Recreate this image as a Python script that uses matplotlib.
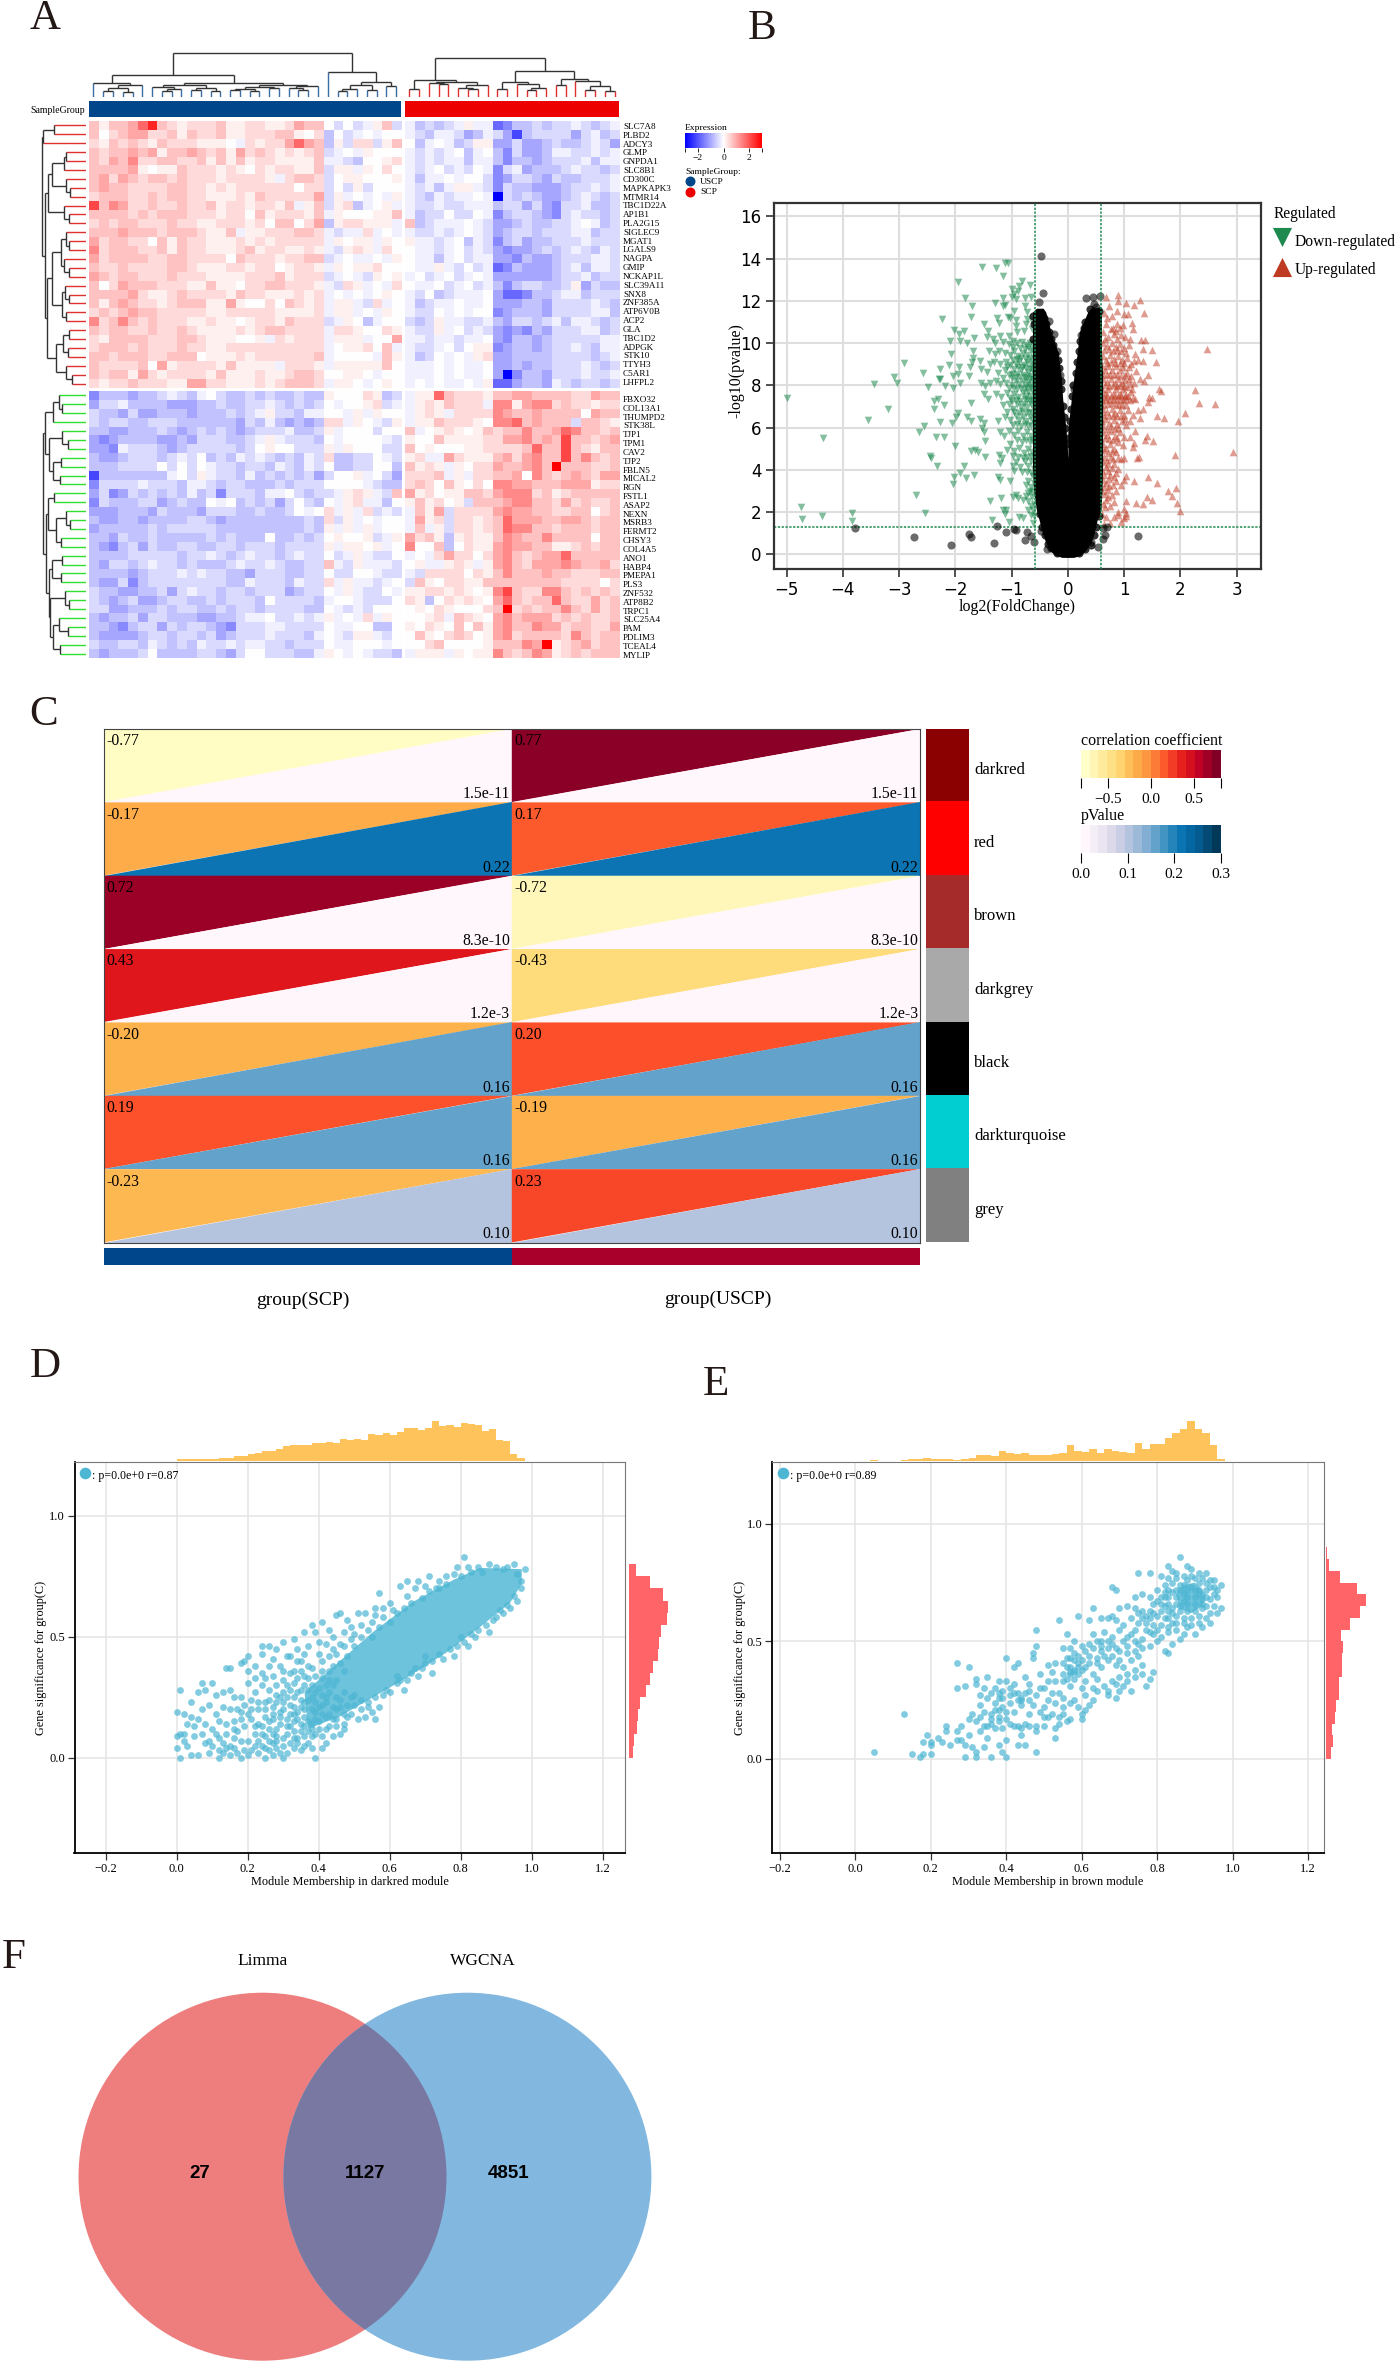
import numpy as np
import matplotlib
matplotlib.use("Agg")
import matplotlib.pyplot as plt
from matplotlib.colors import LinearSegmentedColormap, Normalize
from matplotlib.patches import Circle

# --- Panel A data ---
genes_top = ["SLC7A8", "PLBD2", "ADCY3", "GLMP", "GNPDA1", "SLC8B1", "CD300C", "MAPKAPK3", "MTMR14", "TBC1D22A",
             "AP1B1", "PLA2G15", "SIGLEC9", "MGAT1", "LGALS9", "NAGPA", "GMIP", "NCKAP1L", "SLC39A11", "SNX8",
             "ZNF385A", "ATP6V0B", "ACP2", "GLA", "TBC1D2", "ADPGK", "STK10", "TTYH3", "C5AR1", "LHFPL2"]
genes_bottom = ["FBXO32", "COL13A1", "THUMPD2", "STK38L", "TJP1", "TPM1", "CAV2", "TJP2", "FBLN5", "MICAL2",
                "RGN", "FSTL1", "ASAP2", "NEXN", "MSRB3", "FERMT2", "CHSY3", "COL4A5", "ANO1", "HABP4",
                "PMEPA1", "PLS3", "ZNF532", "ATP8B2", "TRPC1", "SLC25A4", "PAM", "PDLIM3", "TCEAL4", "MYLIP"]

# one string per gene, one char per sample: 1-9 = red levels, a-i = blue levels, 0 = white
heat_top = [
    "313346 832122 231122 112433 0b0ba13b acbcba1aa feccbcbbabcba",
    "302344 223132 231122 233102 c0ba0a00 abcaabdca bdgcbbbbdbacb",
    "213232 132221 110a21 224643 c1b22b13 0ca0acb11 ddbddcbccbabd",
    "323343 413343 231423 212123 ba0a1000 ababa0ca0 cebddcaabbaba",
    "324352 233223 131312 211113 aabc0012 ababaacaa ceccdcbbbacaa",
    "333341 011322 212102 122113 b11a1020 aba0bab0a ebadcccbabbcb",
    "342432 332322 212222 1a2332 b0110001 acaa0a00b edbbcdbccbbba",
    "343322 223322 121222 222022 b0b1b000 abaca11ab ebccdddcbbaba",
    "233322 323322 111213 222224 b1a0a0a1 abcabaa0a ibcbcddcbabcb",
    "735422 322322 312212 213a13 b12ca01a abbabbaaa cbbdbdebbaccb",
    "333323 233322 212203 122213 a1000113 acbb0bb0a ecbbcdebabbcb",
    "232332 223221 122212 033024 c122111a 3cbaaa0ab ddcbccbba0acb",
    "333433 323332 113a11 222332 abaa2a0a abbaba0ab dcbbcbbbaacbb",
    "423322 031322 111212 122222 a1011a10 1aaba0cab ecbdccbbbabbb",
    "523332 231322 111231 221121 ab121a20 0aaba0bab deddcbcbabcab",
    "423333 223322 220322 212233 ba0aa0a1 0aaca0baa ddecddcbbbaab",
    "322322 223321 112212 201221 a1011200 0aa1ab0ba fecdddcbacaab",
    "432332 223222 111122 231222 ba0ab101 a0ba0ba0a ddddddcbbacbb",
    "302433 322211 311022 332221 ab21a0a2 0aa0ba0ba cecbbccb1dbcc",
    "333342 112322 221322 111212 a0a0a010 ab0cbaaa0 dffeccbaacbbb",
    "313432 212333 114100 203212 a11ab2a0 acbaa0aa0 dddccdbbbbabc",
    "232343 322222 112222 211112 a11a0a10 abb0a0a00 edcccdbbbbaac",
    "523532 322211 211012 213222 ba10ca00 bcb1aabba cdbbcbacaabcb",
    "323322 322321 111212 332222 a2210021 abb1a0bab dedecdbbbaacb",
    "213333 222332 111001 a21222 a111a004 aabaabaa0 deccdcbbbbbaa",
    "233323 222322 112222 222222 a011203a abba0b011 edccdcbbabcaa",
    "332333 223330 111212 222223 a0000a31 acb0a0a12 ddccccbbbbcba",
    "322223 041222 213111 1a2221 a1111130 aaa0a0aa0 ddcdccbbbabcb",
    "323314 212222 131112 112332 00110a00 aaa0a0aa0 dieccdbbbabba",
    "212232 221144 221112 123332 a110a010 a0a0aa0a1 ffdccdabcbbcb",
]
heat_bottom = [
    "ecccdc cbabca 0bccbc bccbcc 100021cb a11632221 3344333322433",
    "dbbacc ccdddc cbccbb abcbcb 0a0012ba a1213222a 5514552322122",
    "bccdbd dcccdc ccbcba 1bbcaa 00a1a100 a121a2222 5433433330433",
    "bcbbcc bbbccc cccdbc acdcdc 22a10ab1 a11322210 55634333b3321",
    "ccddcc cbcdcb cbcdcb bbaccb 1a000b00 3a0121013 2335334653323",
    "dedccc cddcdb bbccba 1abbbc 0a0000ab 100311112 2445343733234",
    "ddeabb bcdcbb bbbcb0 100bbb 1a1000bb 301000112 2223633732133",
    "cddcbb bcbab0 cbcaba bcbcab 2ccbb0ab 12aa42111 3424533735323",
    "cccbbb b0b0b0 abbcbb cabcab 0ccbb00c 3121a1022 4334539333223",
    "gccccc cca0b1 abbcac bcbcbd b001a0bd 2223a1a22 3340532343244",
    "ebbbba bbbcaa bcbbcc cbcbbb 0000abcc 232031020 5544333444122",
    "dbedbc bcbcac bebbbc aa0bcb ba121ab3 412011332 4555231233333",
    "ebcccb bdcbcc 0a0cbc bdb0bc 0a12aac0 131201b33 3455332423223",
    "dddccc dbcccd bbbccb ccb0a0 2a1a2bab a314b2222 4544332233023",
    "cddccd ccccbb cdcccc ccccbc 2b1a0a00 a412b2212 3644433443233",
    "dccccc bcbbbb bccccc ccccbc 1a1a1a00 a3a1b2212 3655332333233",
    "ccdbcc bccccc bcbccc 0ccbcb 01001ba1 4231c1211 3543353333033",
    "cdecbd bccbbc cbbcbb bcbbbb 1a1101a0 5003c0211 4544331123233",
    "ccccbb bbbcbb abcbab bcbabb 0ba1abb0 a0a242202 4532344633333",
    "cdbbcb abbcbc ccbabb abccbb 3ab1aaab 01aa121a1 4532444543342",
    "ccccdc bbbaba bbccdb bbccbb 0bb00abb ab2222021 3533343322233",
    "cddbec bbbbbb bbccab bbcabb 2a1aaba0 b31022113 3333333222202",
    "bccddc cbdbab bcbbcb bbdcbb 0a1abb0a 112212101 5732255323232",
    "bcdcbd dcbbcc bcbbbc 0bbbbc a00abbb0 21c021210 4632336322423",
    "bbddcc cbcbbc cbcbbc bbbbcc 0abab000 010210002 3923233532423",
    "cdccbd bbcccd dccbaa 0bbaba 1a0a2a10 0012a3210 4534442323223",
    "ccdecb bdbcbb cdebbb aabbbb 0aa00cc0 102103031 4533544233224",
    "cddddc bbcbbc bdcbbb abbbca 0ab11ab0 031023201 4523333253233",
    "bccbbc abcbca bbabaa bbcbbb 0aa000a0 002300001 3335491234233",
    "cdcccb 0ccccb bcdb00 bbbcca 10a0abbc a111a1011 5323541232333",
]

# dendrograms as (merge height in px, left child, right child); 0 is a leaf
uscp_tree = (44,
             (22, (14, 0, (12, (9, (6, 0, 0), (5, 0, 0)), 0)),
              (14, (12, (10, 0, (8, (6, 0, 0), 0)), (9, (7, 0, 0), (6, 0, 0))),
               (12, (10, (8, (7, 0, 0), (6, 0, 0)), (9, 0, 0)), (11, (9, 0, (7, 0, 0)), 0)))),
             (25, 0, (15, (12, (8, (6, 0, 0), 0), (7, 0, 0)), (11, 0, 0))))
scp_tree = (39,
            (17, (8, 0, 0), (15, (14, 0, (13, 0, 0)), (12, (9, 0, (8, 0, 0)), 0))),
            (26, (15, (8, 0, 0), (13, 0, (9, (7, 0, 0), 0))), (18, (12, 0, 0), (16, 0, (11, (7, 0, 0), (6, 0, 0))))))
row_a = (22, (20, 0, 0), 0)
row_b = (20, 0, (16, 0, 0))
row_c = (22, 0, (17, 0, 0))
row_d = (25, (20, 0, (17, 0, 0)), (22, 0, (17, 0, 0)))
row_e = (24, (21, 0, (17, 0, 0)), (20, 0, 0))
row_f = (23, (17, 0, 0), (18, 0, 0))
row_g = (20, 0, (14, 0, 0))
top_tree = (44, (43, (32, 0, 0), 0), (41, (38, (34, row_a, row_b), row_c), (39, (34, row_d, row_e), (30, row_f, row_g))))
row_h = (33, (27, 0, (24, 0, 0)), 0)
row_i = (24, 0, (18, 0, 0))
row_j = (25, 0, 0)
row_k = (26, 0, 0)
row_l = (32, 0, 0)
row_m = (20, 0, (16, 0, 0))
row_n = (25, 0, 0)
row_o = (24, 0, 0)
row_p = (25, 0, 0)
row_q = (21, 0, (17, 0, 0))
row_r = (27, 0, (18, 0, 0))
row_s = (26, 0, 0)
bottom_tree = (43, (41, row_h, (37, row_i, (33, row_j, row_k))),
               (40, (38, row_l, (30, row_m, row_n)), (37, (34, row_o, row_p), (36, row_q, (33, row_r, row_s)))))

# --- Panel B data ---
green_pts = [
    (-5.0, 7.38), (-4.35, 5.48), (-4.74, 2.24), (-4.72, 1.69), (-4.37, 1.79), (-3.84, 1.94), (-3.83, 1.58),
    (-3.56, 6.37), (-3.2, 6.86), (-3.45, 8.06), (-3.1, 8.4), (-3.04, 8.09), (-2.92, 9.04), (-2.7, 2.8), (-2.54, 1.94),
    (-2.57, 8.6), (-2.48, 7.9), (-2.64, 5.77), (-2.56, 6.08), (-2.35, 5.56), (-2.21, 5.56), (-2.38, 7.24), (-2.31, 7.35),
    (-2.38, 6.9), (-2.2, 7.08), (-2.28, 6.24), (-2.06, 6.21), (-1.99, 6.52), (-1.96, 6.7), (-2.45, 4.66), (-2.43, 4.58),
    (-2.32, 4.19), (-2.0, 5.13), (-1.84, 4.19), (-1.92, 3.87), (-2.02, 3.68), (-2.04, 3.32), (-1.82, 3.59), (-1.67, 3.74),
    (-2.23, 11.14), (-1.96, 12.89), (-1.83, 12.13), (-1.71, 11.77), (-1.73, 11.23), (-2.03, 10.63), (-1.93, 10.43),
    (-1.84, 10.57), (-2.09, 10.11), (-1.91, 10.11), (-1.8, 10.0), (-1.67, 10.22), (-2.08, 9.48), (-1.68, 9.64),
    (-2.11, 8.96), (-1.93, 8.85), (-2.27, 8.77), (-2.3, 8.29), (-2.27, 8.28), (-2.18, 7.98), (-2.05, 7.87), (-2.05, 8.42),
    (-1.95, 8.53), (-1.92, 8.1), (-1.76, 8.45), (-1.74, 8.85), (-1.71, 9.08), (-1.69, 9.27), (-1.56, 9.16), (-1.55, 8.77),
    (-1.39, 9.0), (-1.44, 8.61), (-1.53, 13.59), (-1.28, 13.57), (-1.12, 13.79), (-1.07, 13.78), (-1.15, 13.18),
    (-0.81, 12.92), (-0.87, 12.69), (-0.67, 12.75), (-1.0, 12.56), (-0.88, 12.48), (-0.95, 12.32), (-1.16, 12.13),
    (-1.0, 12.16), (-0.92, 12.08), (-0.77, 12.13), (-0.65, 12.16), (-1.3, 11.9), (-1.16, 11.74), (-1.11, 11.8),
    (-0.77, 11.77), (-0.95, 11.53), (-0.73, 11.45), (-1.26, 11.17), (-1.07, 11.22), (-1.03, 11.18), (-0.92, 11.1),
    (-0.73, 11.14), (-1.5, 10.9), (-1.23, 10.95), (-1.42, 10.58), (-0.93, 10.82), (-0.74, 10.9), (-0.64, 11.06),
    (-1.44, 10.27), (-1.33, 10.19), (-1.2, 10.32), (-1.05, 10.35), (-0.91, 10.5), (-0.78, 10.58), (-0.64, 10.66),
    (-1.3, 10.0), (-1.15, 10.05), (-1.05, 9.95), (-0.98, 10.1), (-0.9, 10.0), (-0.82, 10.05), (-0.75, 9.9), (-0.68, 10.0),
    (-0.62, 9.95), (-1.4, 9.6), (-1.3, 9.5), (-1.22, 9.6), (-1.12, 9.55), (-1.02, 9.45), (-0.95, 9.6), (-0.88, 9.4),
    (-0.8, 9.55), (-0.72, 9.45), (-0.65, 9.6), (-0.6, 9.3), (-1.32, 9.1), (-1.2, 9.0), (-1.1, 9.1), (-1.03, 8.95),
    (-0.98, 9.2), (-0.92, 9.0), (-0.86, 9.15), (-0.78, 8.95), (-0.72, 9.1), (-0.66, 9.0), (-0.61, 8.9), (-1.24, 8.6),
    (-1.12, 8.7), (-1.05, 8.5), (-0.96, 8.75), (-0.9, 8.55), (-0.84, 8.7), (-0.78, 8.5), (-0.71, 8.65), (-0.65, 8.45),
    (-0.6, 8.6), (-1.55, 8.1), (-1.48, 7.95), (-1.38, 8.1), (-1.28, 8.2), (-1.2, 8.05), (-1.1, 8.1), (-1.0, 8.0),
    (-0.93, 8.2), (-0.86, 8.05), (-0.8, 8.2), (-0.75, 8.0), (-0.7, 8.15), (-0.64, 8.0), (-0.6, 8.1), (-1.5, 7.6),
    (-1.42, 7.35), (-1.28, 7.6), (-1.18, 7.45), (-1.08, 7.65), (-1.02, 7.4), (-0.95, 7.6), (-0.88, 7.45), (-0.8, 7.65),
    (-0.75, 7.5), (-0.7, 7.7), (-0.66, 7.5), (-0.6, 7.6), (-1.15, 7.05), (-1.05, 7.1), (-0.98, 6.9), (-0.9, 7.1),
    (-0.84, 6.95), (-0.78, 7.1), (-0.72, 6.95), (-0.66, 7.1), (-0.6, 6.9), (-1.72, 7.15), (-1.25, 6.3), (-1.12, 6.5),
    (-1.03, 6.35), (-0.93, 6.55), (-0.87, 6.35), (-0.79, 6.5), (-0.74, 6.3), (-0.68, 6.5), (-0.62, 6.35), (-1.8, 6.5),
    (-1.72, 6.3), (-1.57, 6.4), (-1.5, 6.2), (-1.52, 6.0), (-1.5, 5.8), (-1.2, 5.8), (-1.14, 5.6), (-1.05, 5.85),
    (-0.95, 5.65), (-0.88, 5.85), (-0.8, 5.6), (-0.73, 5.8), (-0.66, 5.6), (-0.61, 5.8), (-1.47, 5.35), (-1.72, 4.9),
    (-1.66, 4.95), (-1.6, 4.85), (-1.47, 4.6), (-1.23, 4.7), (-1.08, 4.95), (-1.03, 5.2), (-0.96, 4.9), (-0.86, 5.05),
    (-0.78, 4.8), (-0.7, 5.0), (-0.63, 4.85), (-1.2, 4.3), (-1.17, 4.55), (-0.98, 4.2), (-0.93, 4.35), (-0.85, 4.15),
    (-0.77, 4.4), (-0.7, 4.2), (-0.66, 4.4), (-0.61, 4.05), (-1.25, 3.65), (-1.2, 3.5), (-1.03, 3.45), (-0.75, 3.3),
    (-0.7, 3.45), (-0.65, 3.2), (-0.6, 3.35), (-1.19, 2.65), (-0.98, 2.7), (-0.93, 2.8), (-0.88, 2.65), (-0.8, 2.55),
    (-0.75, 2.75), (-0.7, 2.5), (-0.64, 2.7), (-0.6, 2.4), (-1.38, 2.5), (-1.15, 2.1), (-1.12, 1.9), (-1.1, 2.1),
    (-0.86, 1.75), (-0.79, 1.7), (-0.7, 2.1), (-0.65, 1.85), (-0.62, 1.5), (-1.35, 1.6), (-1.05, 1.55),
    # second pass over the dense band next to the threshold line
    (-0.97, 9.8), (-0.85, 9.75), (-0.77, 9.7), (-0.7, 9.8), (-0.63, 9.7), (-0.9, 9.25), (-0.83, 9.3), (-0.75, 9.25),
    (-0.68, 9.3), (-0.62, 9.15), (-1.08, 8.85), (-0.99, 8.55), (-0.88, 8.85), (-0.81, 8.85), (-0.74, 8.8), (-0.68, 8.75),
    (-0.63, 8.75), (-1.15, 8.35), (-1.0, 8.35), (-0.92, 8.4), (-0.85, 8.4), (-0.77, 8.35), (-0.72, 8.4), (-0.67, 8.3),
    (-0.62, 8.3), (-1.05, 7.85), (-0.96, 7.85), (-0.9, 7.8), (-0.84, 7.85), (-0.78, 7.8), (-0.72, 7.85), (-0.68, 7.9),
    (-0.63, 7.8), (-1.0, 7.25), (-0.92, 7.3), (-0.85, 7.25), (-0.77, 7.35), (-0.72, 7.3), (-0.68, 7.25), (-0.63, 7.3),
    (-1.09, 6.75), (-0.95, 6.75), (-0.87, 6.7), (-0.81, 6.8), (-0.75, 6.7), (-0.69, 6.75), (-0.63, 6.7), (-0.98, 6.1),
    (-0.91, 6.15), (-0.83, 6.05), (-0.76, 6.15), (-0.7, 6.05), (-0.65, 6.1), (-0.6, 6.2), (-0.9, 5.4), (-0.82, 5.3),
    (-0.75, 5.4), (-0.68, 5.3), (-0.63, 5.4), (-0.98, 4.65), (-0.88, 4.6), (-0.8, 4.55), (-0.72, 4.6), (-0.65, 4.65),
    (-0.72, 3.9), (-0.66, 3.85), (-0.62, 3.7), (-0.95, 3.95), (-0.82, 3.9), (-0.68, 3.0), (-0.63, 2.95), (-0.71, 2.9),
    (-0.66, 2.3), (-0.62, 2.1), (-0.61, 1.8),
]
red_pts = [
    (2.47, 9.72), (2.27, 7.79), (2.34, 7.16), (2.62, 7.09), (2.08, 6.71), (1.96, 6.32), (1.63, 7.82), (1.65, 7.74),
    (1.59, 6.56), (1.71, 6.45), (2.93, 4.82), (1.9, 4.71), (1.52, 5.37), (1.41, 5.61), (1.38, 5.42), (1.27, 4.61),
    (1.23, 4.55), (1.93, 3.13), (1.79, 2.99), (1.85, 2.76), (1.95, 2.42), (1.99, 2.07), (1.59, 3.36), (1.42, 3.68),
    (1.17, 3.48), (1.4, 2.69), (1.5, 2.56), (1.21, 2.42), (1.33, 2.37), (1.04, 2.53), (1.03, 3.71), (1.04, 1.79),
    (0.99, 2.13), (0.9, 12.27), (1.29, 12.02), (1.17, 11.8), (1.04, 11.88), (1.35, 11.42), (0.9, 12.0), (0.67, 12.18),
    (0.73, 11.74), (0.88, 11.53), (0.99, 11.37), (1.07, 11.37), (1.14, 10.95), (0.98, 10.85), (1.16, 10.66), (1.31, 10.16),
    (1.38, 10.16), (1.34, 9.72), (1.5, 9.67), (1.56, 9.08), (1.34, 9.16), (1.43, 8.5), (1.22, 8.69), (1.35, 8.21),
    (1.45, 7.43), (1.5, 7.39), (1.43, 7.19), (1.33, 6.87), (1.24, 6.84), (1.29, 6.43), (1.19, 5.85), (1.17, 5.29),
    (1.16, 5.06), (1.1, 5.53), (0.64, 11.4), (0.7, 11.2), (0.78, 11.3), (0.68, 10.9), (0.8, 10.7), (0.88, 10.9),
    (0.62, 10.5), (0.72, 10.3), (0.82, 10.45), (0.88, 10.2), (0.94, 10.4), (1.02, 10.3), (1.1, 10.2), (0.63, 10.0),
    (0.7, 9.85), (0.78, 10.0), (0.85, 9.8), (0.92, 9.95), (1.0, 9.75), (1.08, 9.9), (1.2, 9.5), (1.25, 9.2), (0.62, 9.4),
    (0.68, 9.2), (0.75, 9.45), (0.82, 9.25), (0.9, 9.4), (0.96, 9.2), (1.05, 9.3), (1.12, 9.0), (1.18, 9.15), (0.6, 8.9),
    (0.66, 8.7), (0.72, 8.9), (0.79, 8.7), (0.85, 8.9), (0.92, 8.7), (0.98, 8.85), (1.06, 8.6), (1.12, 8.45), (1.28, 8.3),
    (0.63, 8.3), (0.7, 8.15), (0.77, 8.3), (0.83, 8.1), (0.9, 8.3), (0.96, 8.1), (1.02, 8.25), (1.1, 8.05), (1.18, 8.1),
    (0.6, 7.8), (0.66, 7.65), (0.72, 7.8), (0.8, 7.6), (0.86, 7.8), (0.92, 7.6), (0.98, 7.8), (1.04, 7.55), (1.12, 7.7),
    (1.2, 7.35), (0.6, 7.3), (0.68, 7.35), (0.74, 7.3), (0.8, 7.35), (0.86, 7.3), (0.92, 7.35), (0.98, 7.3), (1.04, 7.35),
    (1.1, 7.3), (0.62, 6.9), (0.7, 6.75), (0.78, 6.9), (0.84, 6.7), (0.92, 6.85), (1.0, 6.6), (1.07, 6.85), (1.15, 6.6),
    (0.6, 6.3), (0.66, 6.4), (0.74, 6.2), (0.82, 6.35), (0.88, 6.15), (0.96, 6.3), (1.03, 6.1), (1.1, 6.3), (0.63, 5.8),
    (0.7, 5.65), (0.77, 5.85), (0.84, 5.6), (0.92, 5.8), (1.0, 5.55), (0.62, 5.2), (0.68, 5.05), (0.75, 5.2), (0.82, 5.0),
    (0.9, 5.3), (0.98, 5.15), (0.64, 4.6), (0.7, 4.45), (0.76, 4.6), (0.8, 4.5), (0.9, 4.55), (0.95, 4.5), (1.0, 4.55),
    (0.61, 4.0), (0.67, 4.15), (0.72, 3.95), (0.78, 4.1), (0.85, 3.85), (0.9, 4.05), (0.62, 3.5), (0.68, 3.35), (0.74, 3.55),
    (0.8, 3.3), (0.86, 3.45), (0.95, 3.3), (1.0, 3.5), (0.6, 3.0), (0.66, 2.85), (0.72, 3.05), (0.78, 2.8), (0.85, 3.0),
    (0.62, 2.4), (0.68, 2.55), (0.75, 2.3), (0.82, 2.45), (0.9, 2.0), (0.61, 1.9), (0.67, 1.75), (0.75, 1.5), (0.82, 1.75),
    (0.9, 1.85), (0.65, 1.45), (0.95, 1.55), (1.0, 1.7), (1.03, 1.95),
    # second pass over the dense patch around fold change 0.9, -log10(p) 7-9
    (0.66, 10.2), (0.76, 10.65), (0.85, 10.55), (0.92, 10.7), (0.65, 9.65), (0.74, 9.7), (0.81, 9.6), (0.88, 9.65),
    (0.95, 9.6), (1.03, 9.55), (0.7, 9.05), (0.77, 9.1), (0.84, 9.05), (0.92, 9.05), (1.0, 9.05), (1.08, 8.85), (0.63, 8.55),
    (0.69, 8.5), (0.75, 8.55), (0.82, 8.5), (0.88, 8.55), (0.95, 8.45), (1.02, 8.5), (1.09, 8.3), (0.66, 8.0), (0.73, 7.95),
    (0.8, 8.0), (0.87, 7.95), (0.93, 8.0), (1.0, 7.95), (1.06, 7.9), (1.14, 7.8), (0.64, 7.45), (0.7, 7.55), (0.77, 7.5),
    (0.83, 7.55), (0.89, 7.5), (0.95, 7.55), (1.01, 7.5), (1.07, 7.5), (1.15, 7.4), (0.65, 7.05), (0.72, 7.1), (0.79, 7.15),
    (0.85, 7.05), (0.91, 7.1), (0.97, 7.05), (1.03, 7.05), (0.64, 6.6), (0.73, 6.55), (0.8, 6.6), (0.87, 6.55), (0.95, 6.55),
    (1.02, 6.4), (0.62, 6.05), (0.69, 5.95), (0.76, 6.05), (0.83, 5.95), (0.9, 6.0), (0.66, 5.5), (0.73, 5.45), (0.8, 5.4),
    (0.88, 5.5), (0.64, 4.95), (0.72, 4.8), (0.78, 4.9), (0.86, 4.85), (0.63, 4.35), (0.72, 4.25), (0.82, 4.25), (0.65, 3.75),
    (0.75, 3.75), (0.82, 3.65), (0.65, 3.2), (0.73, 3.25), (0.66, 2.25), (0.72, 2.7),
]
grey_pts = [
    (-0.47, 14.14), (-0.44, 12.39), (-0.52, 11.96), (-0.33, 11.03), (-0.25, 10.43), (-3.78, 1.26), (-2.73, 0.82),
    (-2.08, 0.43), (-1.76, 0.95), (-1.73, 0.82), (-1.31, 0.54), (-1.26, 1.33), (-1.1, 1.06), (-0.95, 1.18), (-0.93, 1.15),
    (-0.73, 1.03), (-0.76, 0.68), (-0.65, 0.84), (-0.61, 0.58), (-0.48, 1.1), (-0.37, 0.24), (1.25, 0.87), (0.32, 12.15),
    (0.45, 12.2), (0.57, 12.24), (0.46, 11.85), (0.5, 11.69), (0.33, 10.79), (0.24, 10.38), (0.7, 1.3), (0.63, 1.26),
    (0.66, 0.9), (0.62, 0.71), (0.53, 0.32), (0.11, 7.82), (-0.2, 9.6), (-0.14, 8.5), (-0.3, 0.9), (0.42, 0.6),
]
# blobby rim of the black cloud
black_rim = [
    (-0.62, 11.3), (-0.6, 10.9), (-0.62, 10.2), (-0.42, 11.2), (-0.38, 10.9), (-0.34, 10.5), (-0.3, 10.2), (-0.27, 9.9),
    (-0.22, 9.5), (-0.18, 9.2), (-0.15, 8.8), (-0.12, 8.2), (-0.13, 7.8), (-0.09, 7.0), (-0.07, 6.5), (-0.05, 6.0),
    (-0.03, 5.2), (0.02, 5.5), (0.04, 6.3), (0.06, 6.9), (0.08, 7.5), (0.1, 8.0), (0.14, 8.6), (0.17, 9.1), (0.2, 9.6),
    (0.22, 10.1), (0.28, 10.7), (0.3, 11.0), (0.4, 11.6), (0.47, 11.5), (0.56, 11.5), (-0.3, 0.3), (0.3, 0.25), (-0.36, 0.5),
    (0.42, 0.45), (-0.4, 0.9), (0.46, 0.9), (-0.46, 1.3), (0.5, 1.3), (-0.5, 1.9), (0.55, 1.8), (-0.2, 0.05), (0.2, 0.05),
]
# outline of the saturated black cloud, per -log10(p) level
black_y = [-0.1, 0.0, 0.2, 0.6, 1.0, 1.6, 2.1, 3.0, 4.2, 4.7, 5.9, 7.35, 8.5, 9.6, 10.5, 11.45, 11.6]
black_l_out = [-0.1, -0.22, -0.3, -0.38, -0.43, -0.49, -0.54, -0.59, -0.61, -0.61, -0.61, -0.61, -0.61, -0.61, -0.61, -0.61, -0.55]
black_l_in = [0, 0, 0, 0, 0, 0, 0, 0, 0, -0.02, -0.05, -0.11, -0.14, -0.2, -0.32, -0.41, -0.45]
black_r_in = [0, 0, 0, 0, 0, 0, 0, 0, 0, 0.02, 0.02, 0.08, 0.13, 0.19, 0.22, 0.37, 0.42]
black_r_out = [0.1, 0.22, 0.3, 0.4, 0.45, 0.5, 0.57, 0.59, 0.6, 0.6, 0.6, 0.6, 0.6, 0.58, 0.58, 0.58, 0.58]

# --- Panel C data ---
modules = ["darkred", "red", "brown", "darkgrey", "black", "darkturquoise", "grey"]
module_colors = ["#8B0000", "#FF0000", "#A52A2A", "#A9A9A9", "#000000", "#00CED1", "#808080"]
cor_scp = [-0.77, -0.17, 0.72, 0.43, -0.20, 0.19, -0.23]
cor_uscp = [0.77, 0.17, -0.72, -0.43, 0.20, -0.19, 0.23]
p_values = [1.5e-11, 0.22, 8.3e-10, 1.2e-3, 0.16, 0.16, 0.10]
p_labels = ["1.5e-11", "0.22", "8.3e-10", "1.2e-3", "0.16", "0.16", "0.10"]

# --- Panel D data ---
d_core_x = [0.36, 0.46, 0.553, 0.666, 0.779, 0.854, 0.972, 0.972, 0.939, 0.854, 0.76, 0.647, 0.553, 0.459, 0.37]
d_core_y = [0.27, 0.4, 0.52, 0.645, 0.735, 0.785, 0.78, 0.72, 0.64, 0.54, 0.435, 0.33, 0.25, 0.17, 0.12]
d_pts = [
    (0.0, 0.19), (0.04, 0.23), (0.01, 0.28), (0.07, 0.31), (0.1, 0.31), (0.06, 0.27), (0.08, 0.28), (0.13, 0.27), (0.15, 0.28),
    (0.11, 0.26), (0.16, 0.25), (0.18, 0.25), (0.14, 0.37), (0.15, 0.37), (0.18, 0.39), (0.2, 0.42), (0.19, 0.4), (0.24, 0.46),
    (0.26, 0.46), (0.24, 0.43), (0.28, 0.45), (0.3, 0.48), (0.33, 0.49), (0.36, 0.52), (0.38, 0.55), (0.41, 0.56), (0.39, 0.52),
    (0.43, 0.53), (0.45, 0.59), (0.46, 0.6), (0.48, 0.57), (0.51, 0.6), (0.53, 0.6), (0.56, 0.59), (0.57, 0.68), (0.52, 0.55),
    (0.47, 0.52), (0.34, 0.45), (0.31, 0.42), (0.27, 0.41), (0.22, 0.38), (0.26, 0.38), (0.3, 0.36), (0.36, 0.43), (0.42, 0.47),
    (0.63, 0.71), (0.65, 0.73), (0.68, 0.73), (0.71, 0.75), (0.74, 0.73), (0.78, 0.76), (0.79, 0.79), (0.81, 0.83), (0.82, 0.79),
    (0.6, 0.64), (0.56, 0.62), (0.67, 0.7), (0.73, 0.7), (0.85, 0.79), (0.88, 0.8), (0.9, 0.79), (0.93, 0.79), (0.95, 0.8),
    (0.98, 0.78), (0.97, 0.73), (0.96, 0.65), (0.94, 0.62), (0.92, 0.6), (0.9, 0.58), (0.88, 0.52), (0.84, 0.5), (0.82, 0.46),
    (0.78, 0.42), (0.75, 0.41), (0.72, 0.35), (0.68, 0.34), (0.66, 0.35), (0.7, 0.39), (0.64, 0.28), (0.63, 0.32), (0.6, 0.27),
    (0.57, 0.21), (0.56, 0.16), (0.55, 0.19), (0.53, 0.17), (0.51, 0.16), (0.5, 0.22), (0.48, 0.17), (0.46, 0.1), (0.47, 0.14),
    (0.43, 0.13), (0.44, 0.09), (0.42, 0.06), (0.41, 0.04), (0.39, 0.0), (0.38, 0.09), (0.36, 0.05), (0.35, 0.03), (0.35, 0.11),
    (0.33, 0.08), (0.31, 0.02), (0.3, 0.0), (0.3, 0.05), (0.29, 0.02), (0.28, 0.04), (0.27, 0.01), (0.26, 0.07), (0.25, 0.04),
    (0.25, 0.0), (0.23, 0.02), (0.22, 0.05), (0.2, 0.01), (0.19, 0.03), (0.18, 0.0), (0.16, 0.04), (0.15, 0.05), (0.14, 0.04),
    (0.13, 0.06), (0.12, 0.0), (0.12, 0.03), (0.1, 0.05), (0.09, 0.02), (0.08, 0.06), (0.05, 0.09), (0.04, 0.01), (0.02, 0.07),
    (0.01, 0.0), (0.01, 0.1), (0.0, 0.04), (0.0, 0.09), (0.02, 0.1), (0.03, 0.05), (0.06, 0.01), (0.09, 0.07), (0.11, 0.1),
    (0.14, 0.1), (0.17, 0.11), (0.2, 0.07), (0.22, 0.1), (0.24, 0.1), (0.26, 0.12), (0.28, 0.09), (0.29, 0.14), (0.27, 0.16),
    (0.25, 0.17), (0.23, 0.14), (0.21, 0.16), (0.19, 0.13), (0.16, 0.15), (0.14, 0.14), (0.12, 0.15), (0.1, 0.12), (0.08, 0.14),
    (0.06, 0.16), (0.04, 0.17), (0.02, 0.18), (0.03, 0.14), (0.07, 0.2), (0.09, 0.22), (0.11, 0.18), (0.13, 0.21), (0.15, 0.2),
    (0.17, 0.2), (0.19, 0.22), (0.21, 0.24), (0.23, 0.2), (0.25, 0.23), (0.27, 0.21), (0.29, 0.25), (0.28, 0.3), (0.26, 0.28),
    (0.24, 0.3), (0.22, 0.27), (0.2, 0.31), (0.2, 0.36), (0.24, 0.35), (0.27, 0.34), (0.3, 0.32), (0.33, 0.36), (0.35, 0.4),
    (0.37, 0.38), (0.4, 0.43), (0.44, 0.45), (0.49, 0.49), (0.54, 0.53), (0.58, 0.58), (0.34, 0.16), (0.36, 0.17), (0.38, 0.14),
    (0.4, 0.12), (0.42, 0.17), (0.45, 0.16), (0.41, 0.22), (0.46, 0.24), (0.5, 0.26), (0.52, 0.24), (0.54, 0.23), (0.58, 0.26),
    (0.62, 0.34), (0.7, 0.42), (0.8, 0.5), (0.33, 0.25), (0.36, 0.3), (0.39, 0.27), (0.41, 0.33), (0.44, 0.3), (0.47, 0.36),
    (0.35, 0.21), (0.37, 0.24), (0.32, 0.18), (0.3, 0.2), (0.31, 0.13),
    # second pass: the mottled band between 0.2 and 0.5 and the rim of the cloud
    (0.31, 0.1), (0.33, 0.11), (0.34, 0.08), (0.36, 0.09), (0.37, 0.11), (0.38, 0.12), (0.39, 0.1), (0.41, 0.09), (0.42, 0.12),
    (0.32, 0.13), (0.33, 0.15), (0.35, 0.14), (0.36, 0.13), (0.37, 0.15), (0.39, 0.16), (0.4, 0.15), (0.41, 0.18), (0.43, 0.18),
    (0.44, 0.16), (0.45, 0.2), (0.47, 0.18), (0.29, 0.17), (0.31, 0.16), (0.33, 0.18), (0.34, 0.19), (0.36, 0.2), (0.38, 0.2),
    (0.39, 0.19), (0.4, 0.21), (0.42, 0.23), (0.44, 0.21), (0.46, 0.21), (0.48, 0.22), (0.3, 0.23), (0.32, 0.22), (0.33, 0.21),
    (0.35, 0.24), (0.36, 0.23), (0.38, 0.25), (0.39, 0.23), (0.41, 0.26), (0.42, 0.25), (0.43, 0.27), (0.45, 0.25), (0.47, 0.27),
    (0.49, 0.25), (0.28, 0.26), (0.3, 0.27), (0.31, 0.25), (0.32, 0.28), (0.34, 0.27), (0.35, 0.28), (0.37, 0.28), (0.38, 0.3),
    (0.4, 0.29), (0.42, 0.3), (0.43, 0.32), (0.45, 0.32), (0.31, 0.3), (0.33, 0.31), (0.34, 0.33), (0.36, 0.34), (0.37, 0.33),
    (0.39, 0.34), (0.41, 0.36), (0.43, 0.36), (0.44, 0.38), (0.46, 0.39), (0.48, 0.42), (0.32, 0.35), (0.35, 0.36), (0.38, 0.37),
    (0.41, 0.4), (0.43, 0.42), (0.45, 0.43), (0.47, 0.46), (0.5, 0.46), (0.52, 0.5), (0.55, 0.5), (0.57, 0.54), (0.6, 0.56),
    (0.62, 0.6), (0.64, 0.62), (0.66, 0.64), (0.69, 0.66), (0.71, 0.69), (0.74, 0.7), (0.76, 0.72), (0.8, 0.75), (0.83, 0.77),
    (0.86, 0.77), (0.92, 0.78), (0.96, 0.76), (0.97, 0.7), (0.95, 0.67), (0.93, 0.63), (0.91, 0.61), (0.89, 0.57), (0.87, 0.55),
    (0.85, 0.53), (0.83, 0.51), (0.81, 0.48), (0.79, 0.46), (0.77, 0.45), (0.74, 0.43), (0.72, 0.4), (0.69, 0.37), (0.67, 0.37),
    (0.65, 0.32), (0.62, 0.31), (0.59, 0.28), (0.56, 0.25), (0.54, 0.21), (0.52, 0.2), (0.49, 0.18), (0.47, 0.12), (0.45, 0.13),
    (0.24, 0.05), (0.26, 0.03), (0.27, 0.06), (0.28, 0.07), (0.3, 0.08), (0.32, 0.06), (0.33, 0.04), (0.34, 0.06), (0.37, 0.06),
    (0.38, 0.04), (0.23, 0.07), (0.25, 0.09), (0.27, 0.1), (0.24, 0.13), (0.26, 0.15), (0.28, 0.12), (0.29, 0.19), (0.27, 0.18),
    (0.25, 0.2), (0.23, 0.23), (0.26, 0.24), (0.28, 0.23), (0.22, 0.13), (0.2, 0.18), (0.18, 0.16), (0.16, 0.12), (0.18, 0.07),
    (0.15, 0.01), (0.21, 0.03), (0.17, 0.02), (0.13, 0.02), (0.07, 0.1), (0.05, 0.13), (0.12, 0.08), (0.16, 0.08), (0.18, 0.19),
    (0.21, 0.2), (0.22, 0.33), (0.25, 0.33), (0.29, 0.38), (0.32, 0.42), (0.34, 0.4), (0.37, 0.46), (0.4, 0.48), (0.44, 0.5),
    (0.46, 0.47), (0.49, 0.54), (0.5, 0.51), (0.55, 0.56), (0.58, 0.62), (0.61, 0.61), (0.65, 0.67), (0.7, 0.71), (0.76, 0.75),
]
d_hist_top = [3, 3, 3, 5, 4, 4, 8, 7, 11, 11, 18, 19, 26, 27, 32, 39, 43, 41, 41, 47, 48, 50, 46, 58, 56, 58, 56, 72, 68, 73,
              68, 78, 88, 88, 82, 87, 106, 92, 96, 91, 100, 98, 96, 80, 85, 55, 53, 18, 7]
d_hist_right = [10, 12, 18, 22, 26, 38, 48, 55, 66, 67, 72, 87, 88, 76, 48, 16]

# --- Panel E data ---
e_core_x = [0.86, 0.85, 0.87, 0.9, 0.93, 0.92, 0.89]
e_core_y = [0.64, 0.7, 0.74, 0.75, 0.7, 0.65, 0.62]
e_pts = [
    (0.05, 0.03), (0.13, 0.19), (0.15, 0.02), (0.17, 0.01), (0.18, 0.02), (0.2, 0.02), (0.19, 0.1), (0.18, 0.07), (0.2, 0.07),
    (0.2, 0.06), (0.22, 0.09), (0.24, 0.14), (0.24, 0.12), (0.23, 0.07), (0.25, 0.06), (0.27, 0.08), (0.28, 0.08), (0.27, 0.12),
    (0.29, 0.01), (0.29, 0.06), (0.31, 0.05), (0.32, 0.01), (0.32, 0.03), (0.34, 0.05), (0.36, 0.01), (0.4, 0.01), (0.38, 0.06),
    (0.39, 0.03), (0.4, 0.08), (0.43, 0.06), (0.45, 0.06), (0.44, 0.1), (0.48, 0.03), (0.27, 0.41), (0.3, 0.39), (0.32, 0.34),
    (0.27, 0.3), (0.29, 0.31), (0.35, 0.35), (0.32, 0.32), (0.34, 0.3), (0.38, 0.33), (0.36, 0.28), (0.33, 0.27), (0.4, 0.33),
    (0.42, 0.32), (0.39, 0.29), (0.38, 0.26), (0.41, 0.27), (0.43, 0.28), (0.44, 0.26), (0.46, 0.29), (0.46, 0.32), (0.4, 0.43),
    (0.42, 0.39), (0.43, 0.41), (0.47, 0.43), (0.48, 0.48), (0.48, 0.55), (0.47, 0.45), (0.45, 0.35), (0.49, 0.36), (0.5, 0.3),
    (0.52, 0.28), (0.54, 0.28), (0.53, 0.33), (0.55, 0.36), (0.57, 0.39), (0.56, 0.43), (0.55, 0.47), (0.57, 0.47), (0.58, 0.45),
    (0.59, 0.36), (0.58, 0.34), (0.57, 0.31), (0.55, 0.26), (0.53, 0.24), (0.5, 0.22), (0.47, 0.23), (0.44, 0.23), (0.41, 0.24),
    (0.39, 0.22), (0.38, 0.21), (0.36, 0.19), (0.33, 0.18), (0.34, 0.2), (0.31, 0.19), (0.3, 0.17), (0.32, 0.16), (0.34, 0.14),
    (0.35, 0.14), (0.37, 0.13), (0.39, 0.13), (0.4, 0.17), (0.41, 0.15), (0.43, 0.14), (0.45, 0.15), (0.48, 0.14), (0.48, 0.12),
    (0.5, 0.14), (0.51, 0.18), (0.53, 0.13), (0.53, 0.09), (0.54, 0.18), (0.56, 0.16), (0.57, 0.17), (0.6, 0.19), (0.6, 0.17),
    (0.59, 0.22), (0.62, 0.23), (0.63, 0.25), (0.61, 0.27), (0.63, 0.3), (0.66, 0.31), (0.67, 0.27), (0.69, 0.26), (0.67, 0.29),
    (0.7, 0.29), (0.71, 0.31), (0.73, 0.29), (0.68, 0.33), (0.7, 0.35), (0.72, 0.36), (0.74, 0.35), (0.76, 0.36), (0.78, 0.34),
    (0.77, 0.31), (0.79, 0.37), (0.76, 0.4), (0.75, 0.44), (0.73, 0.42), (0.71, 0.39), (0.69, 0.4), (0.67, 0.42), (0.65, 0.39),
    (0.63, 0.36), (0.61, 0.39), (0.6, 0.42), (0.62, 0.44), (0.64, 0.43), (0.65, 0.46), (0.67, 0.47), (0.68, 0.49), (0.7, 0.46),
    (0.72, 0.48), (0.74, 0.46), (0.76, 0.47), (0.78, 0.48), (0.8, 0.5), (0.82, 0.46), (0.83, 0.45), (0.84, 0.49), (0.86, 0.51),
    (0.8, 0.55), (0.78, 0.54), (0.76, 0.51), (0.74, 0.5), (0.72, 0.52), (0.7, 0.55), (0.68, 0.52), (0.66, 0.54), (0.64, 0.5),
    (0.62, 0.49), (0.6, 0.48), (0.63, 0.53), (0.65, 0.5), (0.58, 0.5), (0.59, 0.61), (0.54, 0.59), (0.56, 0.53), (0.62, 0.59),
    (0.63, 0.64), (0.65, 0.6), (0.67, 0.6), (0.68, 0.61), (0.69, 0.59), (0.71, 0.57), (0.7, 0.64), (0.72, 0.65), (0.74, 0.64),
    (0.73, 0.6), (0.75, 0.58), (0.77, 0.58), (0.78, 0.6), (0.79, 0.62), (0.76, 0.63), (0.74, 0.69), (0.76, 0.7), (0.68, 0.73),
    (0.69, 0.72), (0.75, 0.79), (0.78, 0.79), (0.81, 0.78), (0.83, 0.82), (0.84, 0.8), (0.86, 0.86), (0.88, 0.82), (0.89, 0.81),
    (0.82, 0.74), (0.8, 0.72), (0.78, 0.69), (0.8, 0.67), (0.79, 0.66), (0.81, 0.63), (0.82, 0.6), (0.84, 0.58), (0.85, 0.55),
    (0.87, 0.53), (0.9, 0.53), (0.92, 0.56), (0.94, 0.58), (0.96, 0.62), (0.97, 0.64), (0.97, 0.74), (0.96, 0.69), (0.95, 0.76),
    (0.93, 0.79), (0.91, 0.79), (0.94, 0.62), (0.88, 0.56), (0.83, 0.54), (0.81, 0.52), (0.82, 0.69), (0.85, 0.77), (0.87, 0.74),
    (0.9, 0.72), (0.92, 0.68), (0.86, 0.65), (0.84, 0.62), (0.35, 0.26), (0.37, 0.24), (0.28, 0.14), (0.3, 0.1), (0.33, 0.12),
    (0.35, 0.09), (0.36, 0.17), (0.37, 0.21), (0.42, 0.2), (0.46, 0.19), (0.49, 0.2), (0.51, 0.25), (0.55, 0.22), (0.58, 0.25),
    (0.6, 0.3), (0.61, 0.33), (0.64, 0.34), (0.52, 0.37), (0.51, 0.4), (0.53, 0.41), (0.55, 0.41), (0.57, 0.36), (0.58, 0.38),
    (0.59, 0.41), (0.6, 0.38), (0.62, 0.41), (0.49, 0.3), (0.44, 0.25), (0.46, 0.25), (0.42, 0.28), (0.33, 0.23), (0.38, 0.18),
    # second pass: the round clump near (0.9, 0.7) and its tail
    (0.83, 0.77), (0.84, 0.75), (0.85, 0.79), (0.86, 0.74), (0.87, 0.78), (0.88, 0.76), (0.89, 0.78), (0.9, 0.77), (0.91, 0.75),
    (0.92, 0.77), (0.93, 0.75), (0.94, 0.76), (0.95, 0.73), (0.96, 0.72), (0.94, 0.73), (0.93, 0.72), (0.91, 0.72), (0.89, 0.73),
    (0.88, 0.72), (0.86, 0.72), (0.85, 0.72), (0.84, 0.71), (0.83, 0.72), (0.82, 0.71), (0.81, 0.69), (0.83, 0.69), (0.85, 0.69),
    (0.87, 0.7), (0.88, 0.69), (0.9, 0.69), (0.91, 0.7), (0.93, 0.69), (0.95, 0.7), (0.94, 0.68), (0.92, 0.66), (0.9, 0.66),
    (0.88, 0.66), (0.87, 0.67), (0.85, 0.66), (0.83, 0.66), (0.82, 0.65), (0.84, 0.64), (0.86, 0.63), (0.88, 0.63), (0.9, 0.63),
    (0.92, 0.64), (0.93, 0.65), (0.95, 0.65), (0.91, 0.61), (0.89, 0.6), (0.87, 0.6), (0.85, 0.61), (0.83, 0.6), (0.85, 0.58),
    (0.87, 0.58), (0.89, 0.57), (0.91, 0.58), (0.93, 0.6), (0.83, 0.63), (0.81, 0.66), (0.8, 0.61), (0.78, 0.63), (0.77, 0.61),
    (0.76, 0.6), (0.75, 0.62), (0.79, 0.57), (0.81, 0.57), (0.83, 0.56), (0.79, 0.53), (0.77, 0.55), (0.74, 0.55), (0.73, 0.53),
    (0.71, 0.5), (0.69, 0.47), (0.67, 0.5), (0.65, 0.48), (0.63, 0.47), (0.61, 0.46), (0.59, 0.44), (0.58, 0.42), (0.57, 0.43),
    (0.56, 0.39), (0.57, 0.37), (0.58, 0.37), (0.59, 0.39), (0.55, 0.33), (0.56, 0.34), (0.51, 0.33), (0.48, 0.27), (0.45, 0.28),
    (0.43, 0.25), (0.41, 0.3), (0.39, 0.26), (0.38, 0.28), (0.37, 0.3), (0.4, 0.2), (0.38, 0.16), (0.36, 0.15), (0.42, 0.14),
    (0.44, 0.13), (0.46, 0.14), (0.5, 0.18), (0.52, 0.19), (0.54, 0.15), (0.55, 0.19), (0.57, 0.24), (0.61, 0.21), (0.64, 0.29),
    (0.69, 0.32), (0.72, 0.33), (0.74, 0.38), (0.7, 0.42), (0.66, 0.44), (0.68, 0.44), (0.64, 0.41), (0.72, 0.45), (0.75, 0.49),
]
e_hist_top = [0, 0, 2, 0, 0, 0, 1, 3, 5, 6, 5, 5, 5, 1, 5, 6, 15, 16, 12, 25, 19, 17, 21, 15, 14, 14, 18, 20, 43, 27, 24, 30,
              20, 31, 25, 23, 20, 48, 32, 44, 44, 60, 75, 84, 107, 84, 73, 42, 5]
e_hist_right = [10, 15, 12, 20, 22, 28, 28, 36, 36, 38, 32, 52, 75, 89, 68, 30, 6, 2]

# --- Panel F data ---
venn_names = ["Limma", "WGCNA"]
venn_counts = ["27", "1127", "4851"]

# --- Helpers ---
W, H = 1395, 2362
plt.rcParams['font.family'] = ['Liberation Serif', 'DejaVu Sans']
fig = plt.figure(figsize=(W / 100, H / 100), dpi=100)


def px_ax(x0, y0, x1, y1):
    return fig.add_axes([x0 / W, 1 - y1 / H, (x1 - x0) / W, (y1 - y0) / H])


page = px_ax(0, 0, W, H)
page.set_xlim(0, W)
page.set_ylim(H, 0)
page.axis("off")
page.set_zorder(20)
page.patch.set_alpha(0)

levels = {"0": 0}
for k in range(1, 10):
    levels[str(k)] = 3 * (k / 9) ** 1.3
    levels["abcdefghi"[k - 1]] = -3 * (k / 9) ** 1.3


def decode(rows):
    out = []
    for row in rows:
        row = row.replace(" ", "").ljust(54, "0")[:54]
        out.append([levels[c] for c in row])
    return np.array(out)


def draw_tree(ax, node, leaves, leaf_color, inner_color, horizontal, lw=1.0):
    # walks the merges, leaves are used from left to right
    def walk(n):
        if n == 0:
            return leaves.pop(0), 0
        a, ha = walk(n[1])
        b, hb = walk(n[2])
        h = n[0]
        for pos, low in ((a, ha), (b, hb)):
            col = leaf_color if low == 0 else inner_color
            seg = ([pos, pos], [low, h])
            ax.plot(*(seg[::-1] if horizontal else seg), color=col, lw=lw, solid_capstyle="butt")
        seg = ([a, b], [h, h])
        ax.plot(*(seg[::-1] if horizontal else seg), color=inner_color, lw=lw, solid_capstyle="butt")
        return (a + b) / 2, h
    walk(node)


heat_cmap = LinearSegmentedColormap.from_list("bwr2", ["#0000FF", "#FFFFFF", "#FF0000"])

# --- A: heatmap ---
HX0, HX1, HX2, HX3 = 88.6, 401.0, 404.5, 619.4
for rows, y0, y1 in ((heat_top, 121, 388), (heat_bottom, 391, 658)):
    mat = decode(rows)
    for block, x0, x1 in ((mat[:, :32], HX0, HX1), (mat[:, 32:], HX2, HX3)):
        ax = px_ax(x0, y0, x1, y1)
        ax.imshow(block, cmap=heat_cmap, vmin=-3, vmax=3, aspect="auto", interpolation="nearest")
        ax.axis("off")

ax = px_ax(HX0, 100.7, HX1, 117.3)
ax.set_facecolor("#00468B")
ax.set_xticks([])
ax.set_yticks([])
for s in ax.spines.values():
    s.set_visible(False)
ax = px_ax(HX2, 100.7, HX3, 117.3)
ax.set_facecolor("#ED0000")
ax.set_xticks([])
ax.set_yticks([])
for s in ax.spines.values():
    s.set_visible(False)
page.text(85, 110.5, "SampleGroup", ha="right", va="center", fontsize=7)

ax = px_ax(HX0, 50, HX3, 97)
ax.set_xlim(HX0, HX3)
ax.set_ylim(0, 47)
ax.axis("off")
w1 = (HX1 - HX0) / 32
w2 = (HX3 - HX2) / 22
draw_tree(ax, uscp_tree, [HX0 + (i + 0.5) * w1 for i in range(32)], "#3A6EA5", "#333333", False)
draw_tree(ax, scp_tree, [HX2 + (i + 0.5) * w2 for i in range(22)], "#E03030", "#333333", False)

ax = px_ax(38, 121, 85.6, 658)
ax.set_xlim(47.6, 0)
ax.set_ylim(658, 121)
ax.axis("off")
rh = (388 - 121) / 30
draw_tree(ax, top_tree, [121 + (i + 0.5) * rh for i in range(30)], "#E03030", "#333333", True)
draw_tree(ax, bottom_tree, [391 + (i + 0.5) * rh for i in range(30)], "#30E030", "#333333", True)

for i, g in enumerate(genes_top):
    page.text(623, 127 + 8.82 * i, g, fontsize=6.6, va="center", ha="left")
for i, g in enumerate(genes_bottom):
    page.text(623, 400 + 8.82 * i, g, fontsize=6.6, va="center", ha="left")

page.text(685, 128, "Expression", fontsize=6.8, va="center")
ax = px_ax(685, 133, 762, 148)
ax.imshow(np.linspace(-3, 3, 200)[None, :], cmap=heat_cmap, vmin=-3, vmax=3, aspect="auto", extent=(-3, 3, 0, 1))
ax.set_yticks([])
ax.set_xticks([-3, -2, 0, 2, 3])
ax.set_xticklabels(["", "\u22122", "0", "2", ""], fontsize=6.8)
ax.tick_params(length=3, width=0.6, pad=1.5)
for s in ax.spines.values():
    s.set_visible(False)
page.text(685, 172, "SampleGroup:", fontsize=6.8, va="center")
page.scatter([690], [181], s=38, color="#00468B")
page.scatter([690], [192], s=38, color="#ED0000")
page.text(700, 181.5, "USCP", fontsize=6.8, va="center")
page.text(700, 192.5, "SCP", fontsize=6.8, va="center")

# --- B: volcano ---
ax = px_ax(774, 203, 1260.7, 568.6)
ax.set_xlim(-5.226, 3.43)
ax.set_ylim(-0.68, 16.63)
ax.grid(True, color="#DEDEDE", lw=1.5)
ax.set_axisbelow(True)
gx, gy = zip(*green_pts)
ax.scatter(gx, gy, marker="v", s=30, color="#1E8A50", alpha=0.55, linewidths=0)
rx, ry = zip(*red_pts)
ax.scatter(rx, ry, marker="^", s=30, color="#BE3A22", alpha=0.5, linewidths=0)
ax.fill_betweenx(black_y, black_l_out, black_l_in, color="black", lw=1.5, zorder=3)
ax.fill_betweenx(black_y, black_r_in, black_r_out, color="black", lw=1.5, zorder=3)
bx, by = zip(*black_rim)
ax.scatter(bx, by, marker="o", s=34, color="black", alpha=0.8, linewidths=0, zorder=3)
kx, ky = zip(*grey_pts)
ax.scatter(kx, ky, marker="o", s=34, color="black", alpha=0.58, linewidths=0, zorder=3)
for v in (-0.585, 0.585):
    ax.axvline(v, color="#1E8A50", lw=1.1, ls=(0, (1.5, 1)), zorder=4)
ax.axhline(1.301, color="#1E8A50", lw=1.1, ls=(0, (1.5, 1)), zorder=2)
ax.set_xticks(range(-5, 4))
ax.set_yticks(range(0, 17, 2))
ax.tick_params(labelsize=12, length=6, width=1.2, pad=3, color="#333333")
for lab in ax.get_xticklabels() + ax.get_yticklabels():
    lab.set_fontfamily("DejaVu Sans")
for s in ax.spines.values():
    s.set_linewidth(1.6)
    s.set_color("#333333")
page.text(1017, 607, "log2(FoldChange)", fontsize=11.5, ha="center", va="center")
page.text(736, 371, "-log10(pvalue)", fontsize=11.5, ha="center", va="center", rotation=90)
page.text(1274, 214, "Regulated", fontsize=11.2, va="center")
page.scatter([1282], [237], marker="v", s=190, color="#1E8A50", linewidths=0)
page.text(1295, 242, "Down-regulated", fontsize=11.2, va="center")
page.scatter([1282], [267], marker="^", s=190, color="#BE3A22", linewidths=0)
page.text(1295, 270, "Up-regulated", fontsize=11.2, va="center")

# --- C: module-trait ---
cor_norm = Normalize(-0.81, 0.81)
p_norm = Normalize(0, 0.3)
cor_cmap = plt.get_cmap("YlOrRd")
p_cmap = plt.get_cmap("PuBu")
ax = px_ax(103.6, 729, 920, 1242.5)
ax.set_xlim(0, 2)
ax.set_ylim(7, 0)
ax.set_xticks([])
ax.set_yticks([])
for s in ax.spines.values():
    s.set_color("#444444")
for j, cors in enumerate((cor_scp, cor_uscp)):
    for i in range(7):
        ax.fill([j, j + 1, j], [i, i, i + 1], color=cor_cmap(cor_norm(cors[i])), lw=0)
        ax.fill([j + 1, j + 1, j], [i, i + 1, i + 1], color=p_cmap(p_norm(p_values[i])), lw=0)
        ax.text(j + 0.006, i + 0.06, f"{cors[i]:.2f}", fontsize=11.3, va="top", ha="left")
        ax.text(j + 0.996, i + 1.0, p_labels[i], fontsize=11.3, va="bottom", ha="right")

ax = px_ax(926, 729, 968.5, 1242.5)
ax.imshow(np.arange(7)[:, None], cmap=matplotlib.colors.ListedColormap(module_colors), aspect="auto", interpolation="nearest")
ax.axis("off")
for i, m in enumerate(modules):
    page.text(974, 733 + (i + 0.5) * (513.5 / 7), m, fontsize=12, va="center")

ax = px_ax(103.6, 1248, 511.8, 1265)
ax.set_facecolor("#00468B")
ax.set_xticks([])
ax.set_yticks([])
ax2 = px_ax(511.8, 1248, 920, 1265)
ax2.set_facecolor("#A8002A")
ax2.set_xticks([])
ax2.set_yticks([])
for a in (ax, ax2):
    for s in a.spines.values():
        s.set_visible(False)
page.text(302.6, 1300, "group(SCP)", fontsize=14, ha="center", va="center")
page.text(718, 1299, "group(USCP)", fontsize=14, ha="center", va="center")

page.text(1081, 741, "correlation coefficient", fontsize=11.5, va="center")
ax = px_ax(1081, 750, 1220.6, 778)
ax.imshow(np.linspace(-0.81, 0.81, 16)[None, :], cmap=cor_cmap, norm=cor_norm, aspect="auto", extent=(-0.81, 0.81, 0, 1))
ax.set_yticks([])
ax.set_xticks([-0.81, -0.5, 0, 0.5, 0.81])
ax.set_xticklabels(["", "\u22120.5", "0.0", "0.5", ""], fontsize=11)
ax.tick_params(length=7, width=0.8, pad=4)
for s in ax.spines.values():
    s.set_visible(False)
page.text(1081, 816, "pValue", fontsize=11.5, va="center")
ax = px_ax(1081, 825, 1220.6, 852.7)
ax.imshow(np.linspace(0, 0.3, 16)[None, :], cmap=p_cmap, norm=p_norm, aspect="auto", extent=(0, 0.3, 0, 1))
ax.set_yticks([])
ax.set_xticks([0, 0.1, 0.2, 0.3])
ax.set_xticklabels(["0.0", "0.1", "0.2", "0.3"], fontsize=11)
ax.tick_params(length=7, width=0.8, pad=4)
for s in ax.spines.values():
    s.set_visible(False)


# --- D and E: scatter with marginal histograms ---
def scatter_panel(box, xlim, ylim, core_x, core_y, pts, hist_top, hist_right, right_box, label, text_x, ylab_x, xlab_x):
    x0, y0, x1, y1 = box
    ax = px_ax(x0, y0, x1, y1)
    ax.set_xlim(*xlim)
    ax.set_ylim(*ylim)
    ax.grid(True, color="#E6E6E6", lw=1.2)
    ax.set_axisbelow(True)
    ax.fill(core_x, core_y, color="#6CC3DB", lw=0, zorder=2)
    px, py = zip(*pts)
    ax.scatter(px, py, s=24, color="#4DB6D3", alpha=0.7, linewidths=0, zorder=3)
    ax.set_xticks([-0.2, 0, 0.2, 0.4, 0.6, 0.8, 1.0, 1.2])
    ax.set_xticklabels(["\u22120.2", "0.0", "0.2", "0.4", "0.6", "0.8", "1.0", "1.2"], fontsize=9)
    ax.set_yticks([0, 0.5, 1.0])
    ax.set_yticklabels(["0.0", "0.5", "1.0"], fontsize=9)
    ax.tick_params(length=5, width=0.9, pad=2, color="#333333")
    ax.spines["left"].set_linewidth(1.3)
    ax.spines["bottom"].set_linewidth(1.3)
    ax.spines["top"].set_color("#777777")
    ax.spines["right"].set_color("#777777")

    top = px_ax(x0, y0 - 42, x1, y0 - 1.5)
    top.set_xlim(*xlim)
    top.set_ylim(0, 40.5 * 2.7)
    top.bar(np.arange(len(hist_top)) * 0.02, hist_top, width=0.02, align="edge", color="#FFC35C", lw=0)
    top.axis("off")

    side = px_ax(right_box, y0, right_box + 44, y1)
    side.set_xlim(0, 44 * 2.24)
    side.set_ylim(*ylim)
    side.barh(np.arange(len(hist_right)) * 0.05, hist_right, height=0.05, align="edge", color="#FF6468", lw=0)
    side.axis("off")

    page.scatter([x0 + 10.5], [1472.5], s=70, color="#4DB6D3", linewidths=0)
    page.text(text_x, 1476, ": p=0.0e+0 r=" + label[1], fontsize=8.6, va="center")
    page.text(xlab_x, 1881.5, "Module Membership in " + label[0] + " module", fontsize=8.8, ha="center", va="center")
    page.text(ylab_x, 1658, "Gene significance for group(C)", fontsize=8.8, ha="center", va="center", rotation=90)


scatter_panel((74.5, 1462, 625, 1853), (-0.288, 1.263), (-0.394, 1.223), d_core_x, d_core_y, d_pts, d_hist_top, d_hist_right,
              628.6, ("darkred", "0.87"), 91.5, 41.5, 349.5)
scatter_panel((772.4, 1462, 1323.7, 1853), (-0.22, 1.2416), (-0.4, 1.263), e_core_x, e_core_y, e_pts, e_hist_top, e_hist_right,
              1326.4, ("brown", "0.89"), 790, 740.5, 1047.5)

# --- F: venn ---
ax = px_ax(0, 1930, 720, 2362)
ax.set_xlim(0, 720)
ax.set_ylim(432, 0)
ax.axis("off")
left = Circle((262.5, 246.7), 184, color="#EE7E7E", lw=0)
right = Circle((467.4, 246.7), 184, color="#82B8DF", lw=0)
ax.add_patch(left)
ax.add_patch(right)
lens = Circle((262.5, 246.7), 184, color="#7878A2", lw=0)
ax.add_patch(lens)
lens.set_clip_path(right)
ax.set_aspect("equal")
page.text(262.6, 1961, venn_names[0], fontsize=12.5, ha="center", va="center")
page.text(483, 1961, venn_names[1], fontsize=12.5, ha="center", va="center")
for xc, txt in zip((199.7, 365, 508.7), venn_counts):
    page.text(xc, 2174, txt, fontsize=13.5, fontweight="bold", family="Liberation Sans", ha="center", va="center")

# --- panel letters ---
for letter, lx, ly in (("A", 30, 29), ("B", 748, 39), ("C", 29, 725), ("D", 30, 1377), ("E", 703, 1395), ("F", 2, 1968)):
    page.text(lx, ly, letter, fontsize=31, va="baseline", ha="left", color="#231815")

fig.savefig("out.png", dpi=100)
